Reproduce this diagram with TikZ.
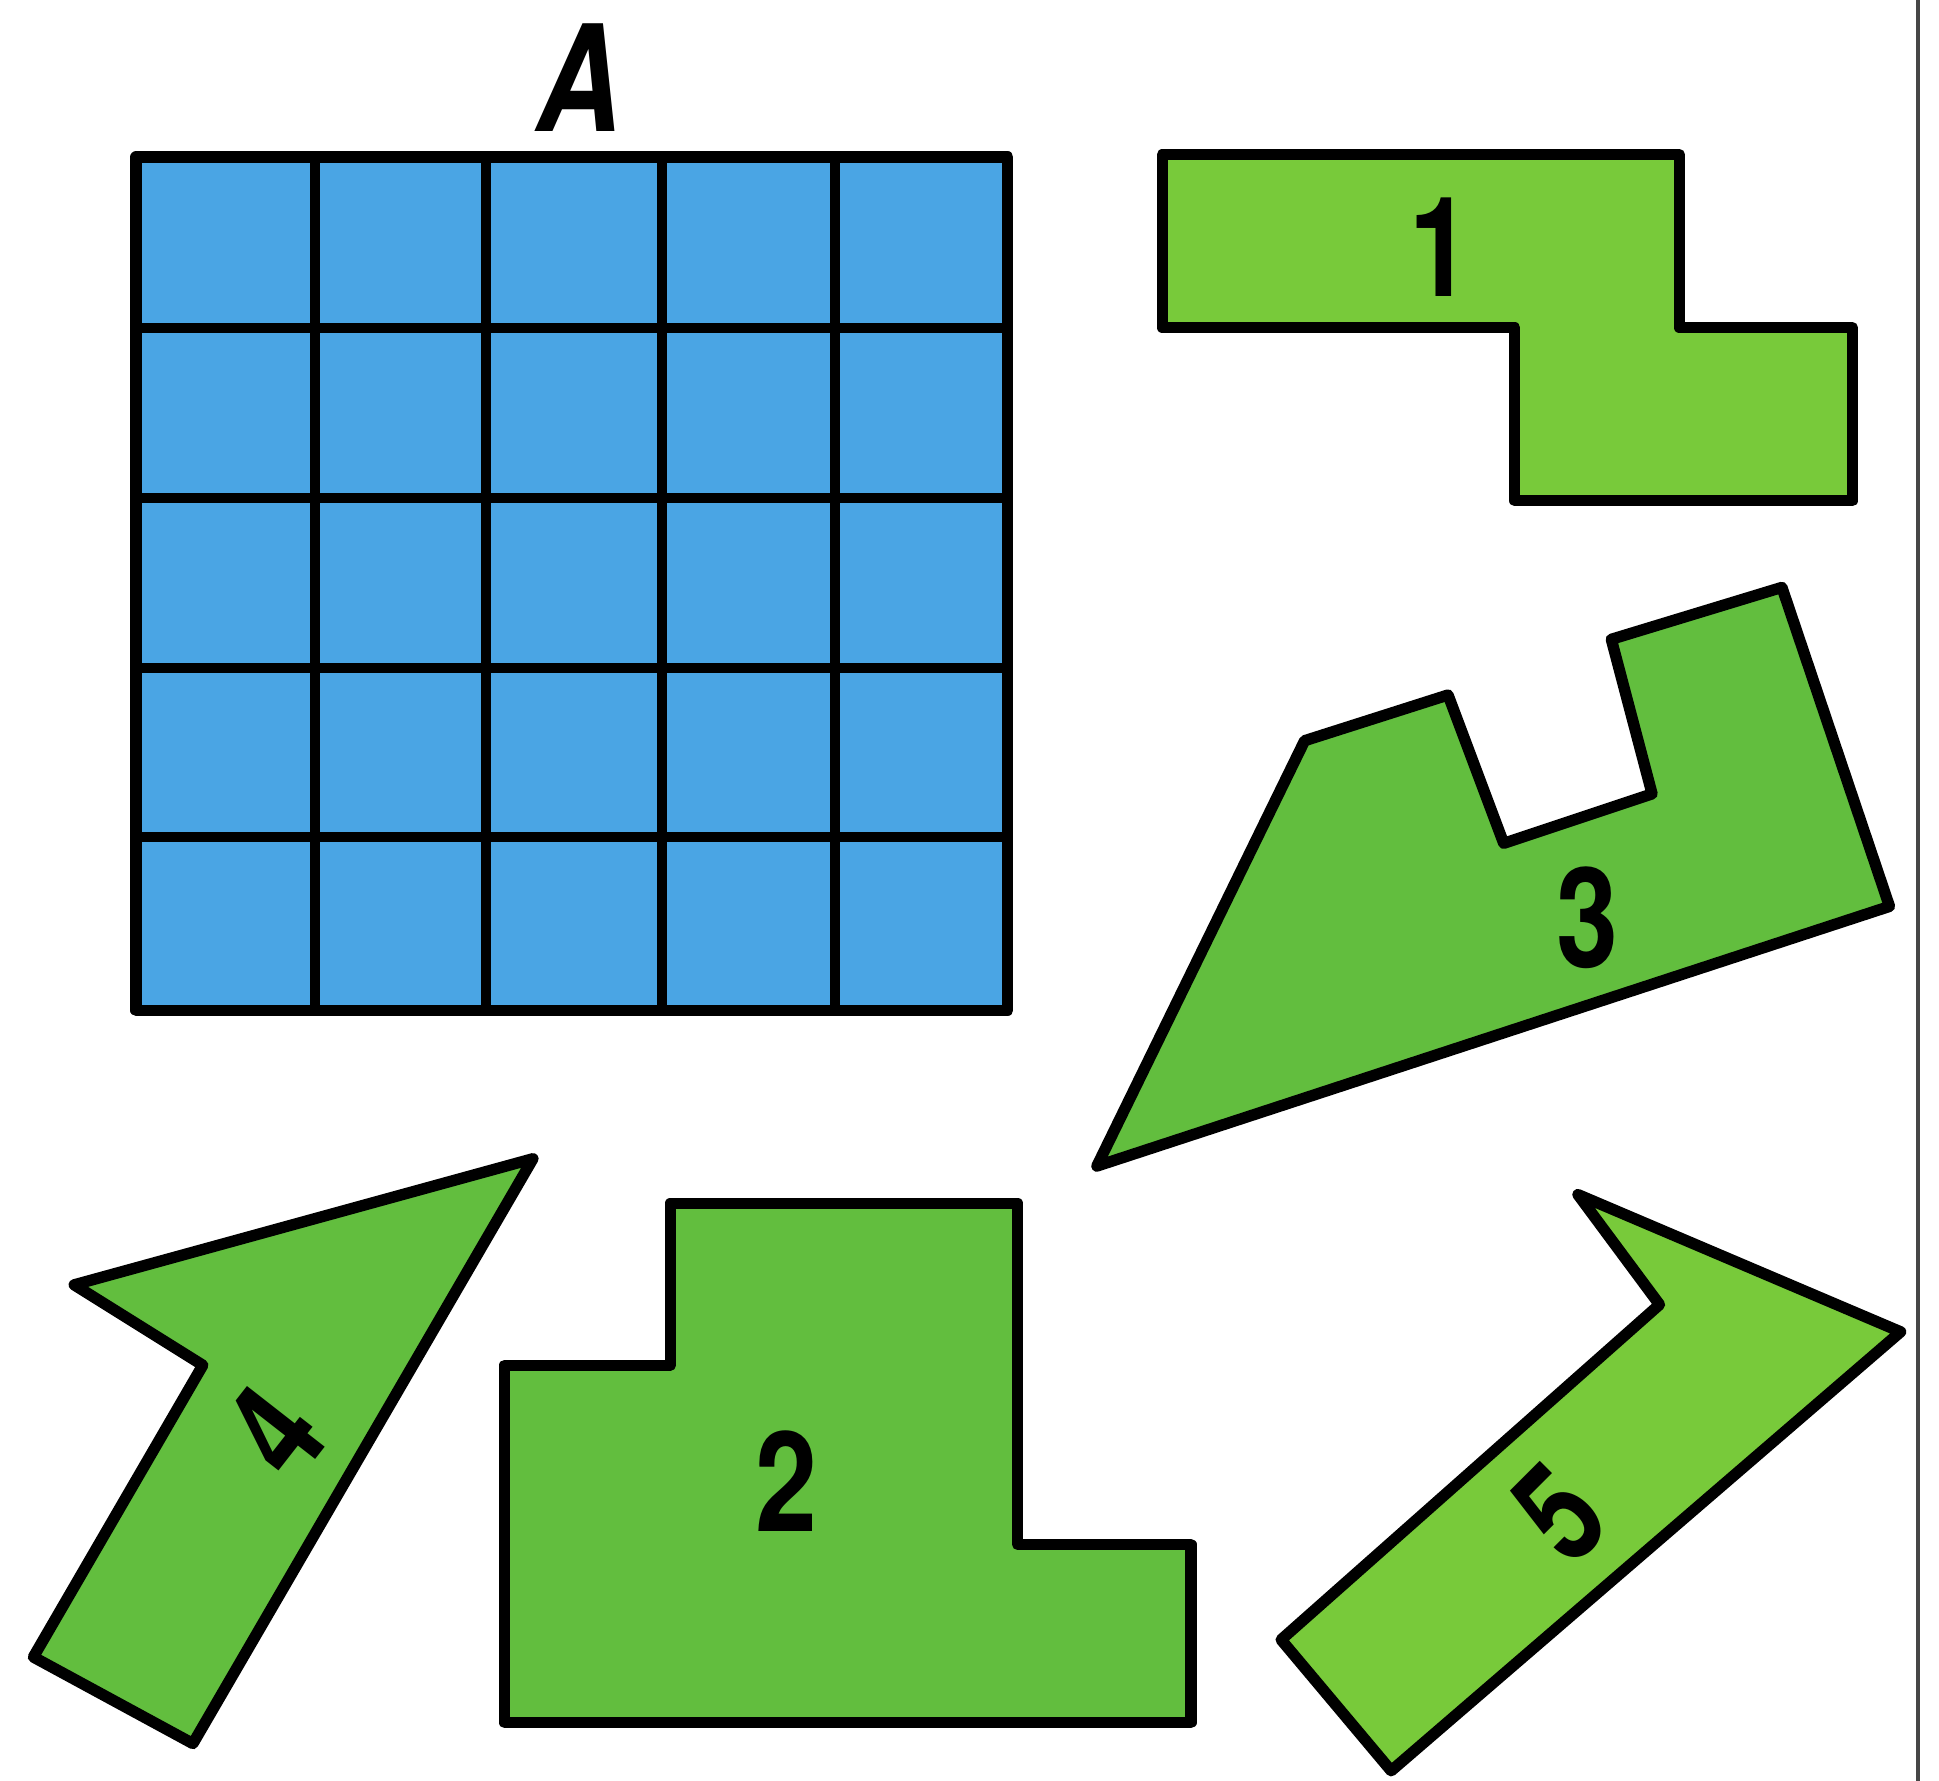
\documentclass[tikz,border=0pt]{standalone}
\usepackage{fontspec}
\usepackage{graphicx}
\newfontfamily\labelfont{TeX Gyre Heros}
\definecolor{gridBlue}{RGB}{74,165,228}
\definecolor{pieceGreen}{RGB}{98,190,62}
\definecolor{pieceGreenLt}{RGB}{120,202,58}
\definecolor{borderGray}{RGB}{70,70,70}
\begin{document}
\begin{tikzpicture}[x=0.01cm,y=-0.01cm,
  outline/.style={line width=2.6pt, line join=round, draw=black},
  gridline/.style={line width=2.3pt, draw=black},
  piece/.style={outline, fill=pieceGreen},
  piecelt/.style={outline, fill=pieceGreenLt},
  lbl/.style={font=\labelfont\bfseries\fontsize{32}{34}\selectfont, inner sep=0pt, text=black}]
\useasboundingbox (0,0) rectangle (1568,1440);
\fill[white] (0,0) rectangle (1568,1440);
% page border on the right
\draw[borderGray, line width=0.8pt] (1551,0) -- (1551,1440);

% grid A
\fill[gridBlue] (110,127) rectangle (815,817);
\foreach \x in {255,393,535,675} \draw[gridline] (\x,127) -- (\x,817);
\foreach \y in {265,403,540,677} \draw[gridline] (110,\y) -- (815,\y);
\draw[outline] (110,127) rectangle (815,817);
\node[lbl, font=\labelfont\bfseries\itshape\fontsize{34}{36}\selectfont] (labelA) at (468,63) {\scalebox{0.8}[1]{A}};

% piece 1
\draw[piecelt] (940,125) -- (1358,125) -- (1358,265) -- (1498,265) -- (1498,405)
  -- (1225,405) -- (1225,265) -- (940,265) -- cycle;
\node[lbl] (label1) at (1165,200) {\scalebox{0.8}[1]{1}};

% piece 3
\draw[piece] (887,943) -- (1055,599) -- (1171,562) -- (1216,682) -- (1336,642)
  -- (1303,517) -- (1441,475) -- (1528,733) -- cycle;
\node[lbl] (label3) at (1284,742) {\scalebox{0.8}[1]{3}};

% piece 4
\draw[piece] (431,937) -- (60,1039) -- (164,1104) -- (27,1340) -- (156,1410) -- cycle;
\node[lbl, rotate=52] (label4) at (222,1158) {\scalebox{0.8}[1]{4}};

% piece 2
\draw[piece] (542,973) -- (823,973) -- (823,1249) -- (963,1249) -- (963,1393)
  -- (408,1393) -- (408,1104) -- (542,1104) -- cycle;
\node[lbl] (label2) at (636,1198) {\scalebox{0.8}[1]{2}};

% piece 5
\draw[piecelt] (1276,966) -- (1537,1077) -- (1125,1432) -- (1036,1326) -- (1342,1055) -- cycle;
\node[lbl, rotate=45] (label5) at (1261,1224) {\scalebox{0.8}[1]{5}};
\end{tikzpicture}
\end{document}
